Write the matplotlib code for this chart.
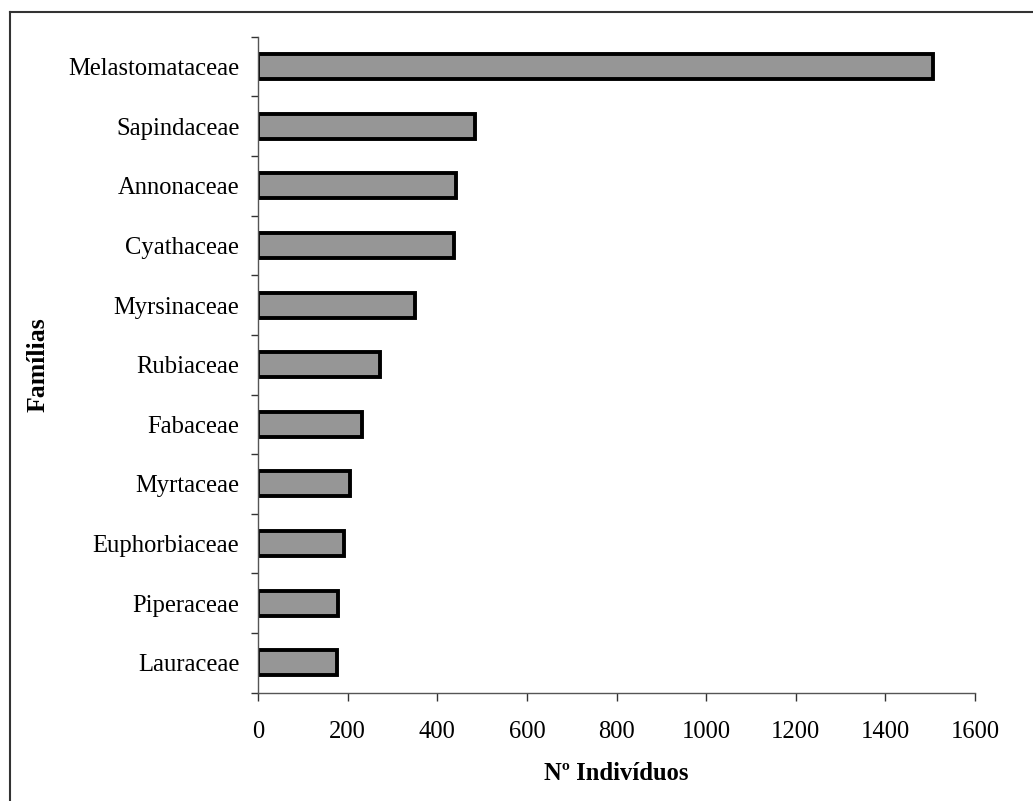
import matplotlib
matplotlib.use("Agg")
import matplotlib.pyplot as plt
from matplotlib.lines import Line2D
import numpy as np

families = ["Melastomataceae", "Sapindaceae", "Annonaceae", "Cyathaceae",
            "Myrsinaceae", "Rubiaceae", "Fabaceae", "Myrtaceae",
            "Euphorbiaceae", "Piperaceae", "Lauraceae"]
individuos = [1507, 484, 442, 437, 350, 272, 232, 206, 191, 179, 177]
xticks = [0, 200, 400, 600, 800, 1000, 1200, 1400, 1600]

plt.rcParams['font.family'] = ['Liberation Serif', 'DejaVu Serif']

W, H = 1033, 801
fig = plt.figure(figsize=(W / 100, H / 100), dpi=100)
fig.patch.set_facecolor('white')

left, right, top, bottom = 258, 975, 36.7, 692.7
ax = fig.add_axes([left / W, 1 - bottom / H, (right - left) / W, (bottom - top) / H])

y = np.arange(len(families))
ax.barh(y, individuos, height=0.42, color='#969696', edgecolor='black', linewidth=2.8)
ax.set_ylim(len(families) - 0.5, -0.5)
ax.set_xlim(0, 1600)

ax.set_xticks(xticks)
ax.set_xticklabels([str(v) for v in xticks], fontsize=17.7)
ax.set_yticks(y)
ax.set_yticklabels(families, fontsize=17.7)
ax.set_yticks(np.arange(-0.5, len(families), 1.0), minor=True)

ax.tick_params(axis='y', which='major', length=0, pad=13.5)
ax.tick_params(axis='y', which='minor', length=5, width=1, color='#333333', direction='out')
ax.tick_params(axis='x', which='major', length=5.5, width=1, color='#333333', direction='out', pad=15)

for s in ['top', 'right']:
    ax.spines[s].set_visible(False)
for s in ['left', 'bottom']:
    ax.spines[s].set_color('#555555')
    ax.spines[s].set_linewidth(1.0)

fig.text(616 / W, 1 - 773 / H, "Nº Indivíduos", fontsize=17.7, fontweight='bold',
         ha='center', va='center')
fig.text(38 / W, 1 - 364.7 / H, "Famílias", fontsize=18.5, fontweight='bold',
         rotation=90, ha='center', va='center')

# outer frame (left and top edges visible)
fig.add_artist(Line2D([10 / W, 10 / W], [0, 1 - 12 / H], transform=fig.transFigure,
                      color='#333333', linewidth=1.5))
fig.add_artist(Line2D([10 / W, 1], [1 - 12 / H, 1 - 12 / H], transform=fig.transFigure,
                      color='#333333', linewidth=1.5))

fig.savefig("out.png", dpi=100)
